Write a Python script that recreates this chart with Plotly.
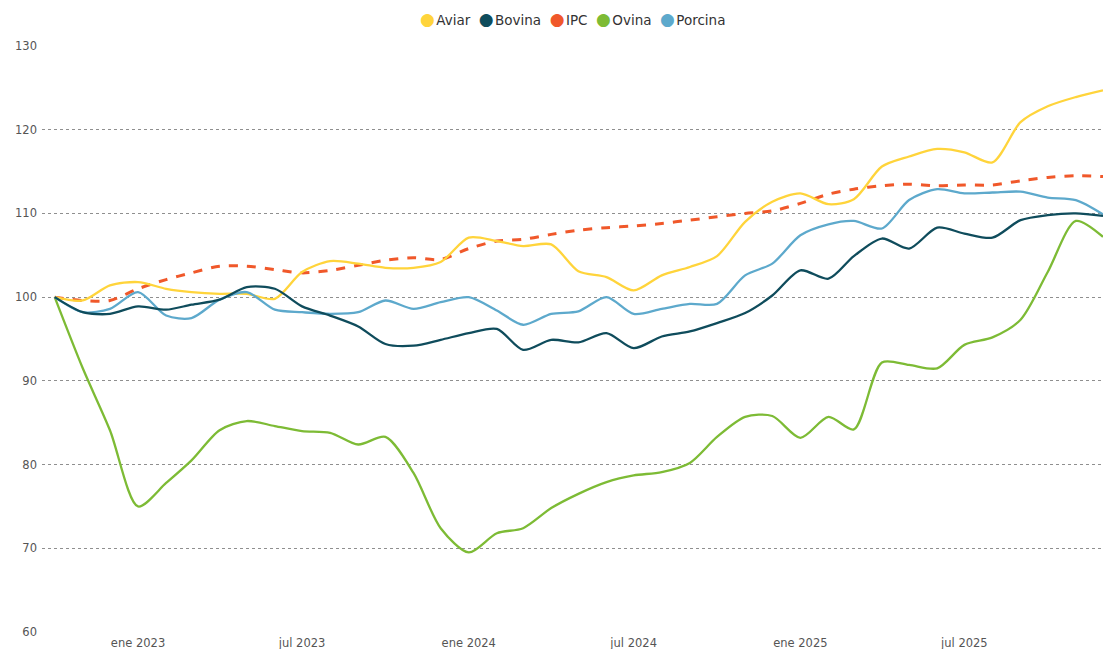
import plotly.graph_objects as go
import pandas as pd

months = pd.date_range("2022-10-01", "2025-12-01", freq="MS")

aviar = [100, 99.6, 101.4, 101.8, 101.0, 100.6, 100.4, 100.4, 99.8, 103.0, 104.3, 104.0, 103.5,
         103.5, 104.2, 107.1, 106.7, 106.1, 106.3, 103.1, 102.4, 100.8, 102.6, 103.6, 104.9,
         109.0, 111.4, 112.4, 111.1, 111.7, 115.6, 116.8, 117.7, 117.3, 116.1, 120.9, 122.8,
         123.9, 124.7]
bovina = [100, 98.2, 98.0, 98.9, 98.5, 99.1, 99.7, 101.2, 101.0, 98.9, 97.8, 96.5, 94.4,
          94.2, 94.9, 95.7, 96.2, 93.7, 94.9, 94.6, 95.7, 93.9, 95.3, 95.9, 96.9,
          98.1, 100.2, 103.2, 102.2, 104.9, 107.0, 105.8, 108.3, 107.6, 107.1, 109.2, 109.8,
          110.0, 109.7]
ipc = [100, 99.6, 99.6, 101.0, 102.1, 102.9, 103.7, 103.7, 103.3, 102.9, 103.2, 103.8, 104.4,
       104.7, 104.5, 105.8, 106.7, 106.9, 107.5, 108.0, 108.3, 108.5, 108.8, 109.2, 109.6,
       110.0, 110.3, 111.2, 112.3, 112.9, 113.3, 113.5, 113.3, 113.4, 113.4, 113.9, 114.3,
       114.5, 114.4]
ovina = [100, 91.5, 84.1, 75.0, 77.8, 80.5, 84.1, 85.2, 84.6, 84.0, 83.8, 82.4, 83.3,
         79.0, 72.4, 69.5, 71.8, 72.4, 74.8, 76.5, 77.9, 78.7, 79.1, 80.2, 83.3,
         85.7, 85.8, 83.2, 85.7, 84.2, 92.2, 91.9, 91.5, 94.3, 95.2, 97.3, 103.0,
         109.1, 107.2]
porcina = [100, 98.2, 98.6, 100.6, 97.8, 97.5, 99.7, 100.6, 98.5, 98.2, 98.0, 98.2, 99.6,
           98.6, 99.4, 100.0, 98.4, 96.7, 98.0, 98.3, 100.0, 98.0, 98.6, 99.2, 99.2,
           102.6, 104.0, 107.4, 108.7, 109.1, 108.2, 111.6, 112.9, 112.4, 112.5, 112.6, 111.9,
           111.6, 109.9]

series_names = ["Aviar", "Bovina", "IPC", "Ovina", "Porcina"]
series_values = [aviar, bovina, ipc, ovina, porcina]
colors = ["#FFD43B", "#0F4C5C", "#F0582A", "#7DBB35", "#5DA9CC"]
dashes = ["solid", "solid", "dash", "solid", "solid"]
widths = [2.3, 2.3, 3, 2.3, 2.3]

tick_vals = pd.to_datetime(["2023-01-01", "2023-07-01", "2024-01-01", "2024-07-01",
                            "2025-01-01", "2025-07-01"])
tick_text = ["ene 2023", "jul 2023", "ene 2024", "jul 2024", "ene 2025", "jul 2025"]

fig = go.Figure()
draw_order = [3, 2, 0, 4, 1]
for i in draw_order:
    fig.add_trace(go.Scatter(
        x=months, y=series_values[i], name=series_names[i], mode="lines",
        line=dict(color=colors[i], width=widths[i], dash=dashes[i], shape="spline", smoothing=0.8),
        showlegend=False, hoverinfo="x+y+name"))

# Legend drawn as a compact text row (circle marker + name per series)
legend_html = "&nbsp;&nbsp;".join(
    f"<span style='color:{c};font-size:17px'>●</span>&#8202;<span>{n}</span>"
    for n, c in zip(series_names, colors))

fig.add_annotation(
    text=legend_html, xref="paper", yref="paper", x=0.5, xanchor="center",
    y=1.046, yanchor="middle", showarrow=False,
    font=dict(size=13.5, color="#333333", family="DejaVu Sans, Verdana, sans-serif"))

fig.update_layout(
    width=1103, height=649,
    margin=dict(l=42, r=0, t=46, b=17, autoexpand=False),
    plot_bgcolor="white", paper_bgcolor="white",
    font=dict(family="DejaVu Sans, Verdana, sans-serif", size=11, color="#555555"),
    showlegend=False,
    xaxis=dict(range=["2022-09-17", "2025-12-01"], tickvals=tick_vals, ticktext=tick_text,
               showgrid=False, zeroline=False, showline=False, ticks="", automargin=False,
               ticklabelstandoff=2,
               tickfont=dict(size=11.5, color="#555555")),
    yaxis=dict(range=[60, 130], tickvals=[60, 70, 80, 90, 100, 110, 120, 130],
               showgrid=True, gridcolor="#8f8f8f", gridwidth=1.2, griddash="dot",
               zeroline=False, showline=False, ticks="", automargin=False,
               ticklabelstandoff=4,
               tickfont=dict(size=11.5, color="#555555")),
)

fig.write_html("out.html", config={"displayModeBar": False},
               post_script="document.body.style.margin='0';document.body.style.overflow='hidden';")
